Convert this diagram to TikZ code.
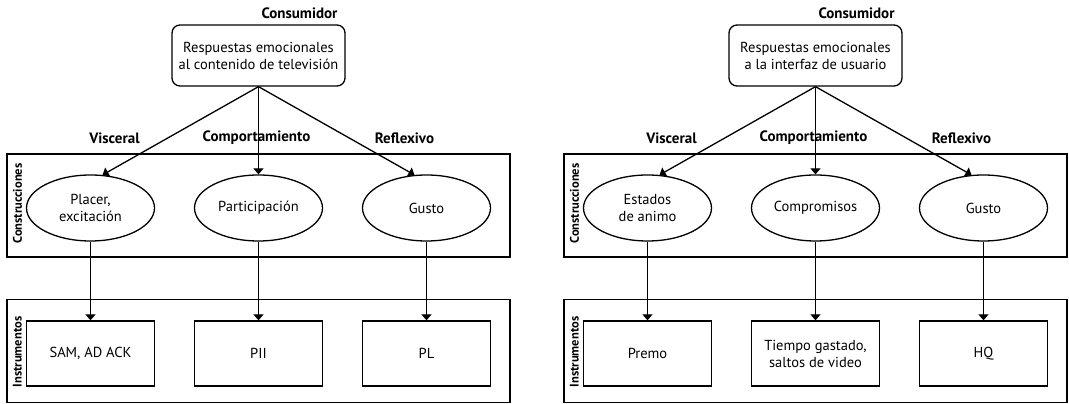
\documentclass[tikz,border=0pt]{standalone}
\usepackage{fontspec}
\setmainfont{PT Sans}
\usetikzlibrary{positioning,arrows.meta,shapes.geometric}

\begin{document}
\begin{tikzpicture}[x=1pt,y=1pt,node distance=168pt,on grid,
    >={Triangle[width=10pt,length=6pt]},font=\fontsize{14.5}{17}\selectfont]
    \tikzset{rounded/.style={draw,rectangle,rounded corners=8pt,minimum width=173pt,minimum height=61pt,align=center,line width=1.3pt},
      oval/.style={draw,ellipse,minimum width=128pt,minimum height=66pt,align=center,line width=1.3pt},
      instr/.style={draw,rectangle,minimum width=128pt,minimum height=65pt,align=center,line width=1.3pt},
      frame/.style={draw,rectangle,minimum width=503pt,minimum height=103pt,line width=1.2pt},
      tag/.style={font=\bfseries\fontsize{15}{17}\selectfont},
      side/.style={font=\bfseries\fontsize{12.5}{14}\selectfont,rotate=90,anchor=center}}
    \useasboundingbox (0,0) rectangle (1069,404);

    % contenido de television
    \node[frame] (tvcons) at (258.5,198.5) {};
    \node[frame] (tvinst) at (258.5,53) {};
    \node[side] at ([xshift=11pt,yshift=2pt]tvcons.west) {Construcciones};
    \node[side] at ([xshift=11pt,yshift=-1pt]tvinst.west) {Instrumentos};
    \node[rounded] (tv) at (258.5,348.5) {Respuestas emocionales\\al contenido de televisión};
    \node[tag] (tvc) at ([xshift=41pt,yshift=11pt]tv.north) {Consumidor};
    \node[oval] (part) [below=152.5pt of tv] {Participación};
    \node[oval] (placer) [left = of part] {Placer,\\excitación};
    \node[oval] (gusto) [right = of part] {Gusto};
    \node[instr] (pii) [below=145.5pt of part] {PII};
    \node[instr] (sam) [below=145.5pt of placer] {SAM, AD ACK};
    \node[instr] (pl) [below=145.5pt of gusto] {PL};
    \node[tag] [above=70pt of placer,xshift=24pt] {Visceral};
    \node[tag] [above=70pt of part,xshift=-2pt] {Comportamiento};
    \node[tag] [above=70pt of gusto,xshift=-22pt] {Reflexivo};
    \path[->,line width=1.3pt]
    (tv.south) edge (placer.70)
    edge (part.north)
    edge (gusto.110)
    (placer.south) edge (sam.north)
    (part.south) edge (pii.north)
    (gusto.south) edge (pl.north)
    ;

    % interfaz de usuario
    \begin{scope}[xshift=557pt]
      \node[frame] (uicons) at (258.5,198.5) {};
      \node[frame] (uiinst) at (258.5,53) {};
      \node[side] at ([xshift=11pt,yshift=2pt]uicons.west) {Construcciones};
      \node[side] at ([xshift=11pt,yshift=-1pt]uiinst.west) {Instrumentos};
      \node[rounded] (ui) at (258.5,348.5) {Respuestas emocionales\\a la interfaz de usuario};
      \node[tag] (uic) at ([xshift=41pt,yshift=11pt]ui.north) {Consumidor};
      \node[oval] (compr) [below=152.5pt of ui] {Compromisos};
      \node[oval] (animo) [left = of compr] {Estados\\de animo};
      \node[oval] (gusto2) [right = of compr] {Gusto};
      \node[instr] (tiempo) [below=145.5pt of compr] {Tiempo gastado,\\saltos de video};
      \node[instr] (premo) [below=145.5pt of animo] {Premo};
      \node[instr] (hq) [below=145.5pt of gusto2] {HQ};
      \node[tag] [above=70pt of animo,xshift=24pt] {Visceral};
      \node[tag] [above=70pt of compr,xshift=-2pt] {Comportamiento};
      \node[tag] [above=70pt of gusto2,xshift=-22pt] {Reflexivo};
      \path[->,line width=1.3pt]
      (ui.south) edge (animo.70)
      edge (compr.north)
      edge (gusto2.110)
      (animo.south) edge (premo.north)
      (compr.south) edge (tiempo.north)
      (gusto2.south) edge (hq.north)
      ;
    \end{scope}
  \end{tikzpicture}
\end{document}
